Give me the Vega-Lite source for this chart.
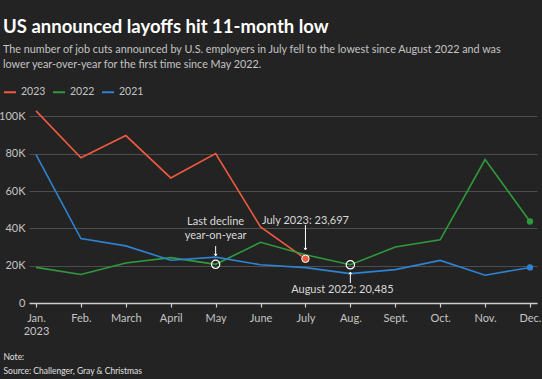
{
  "$schema": "https://vega.github.io/schema/vega-lite/v6.json",
  "width": 508,
  "height": 196,
  "autosize": {"type": "none"},
  "padding": {"left": 29, "top": 107, "right": 5, "bottom": 76},
  "background": "#232323",
  "config": {
    "view": {"stroke": null},
    "font": "Lato",
    "axis": {"labelFont": "Lato", "titleFont": "Lato"},
    "legend": {"labelFont": "Lato"}
  },
  "title": {
    "text": "US announced layoffs hit 11-month low",
    "subtitle": ["The number of job cuts announced by U.S. employers in July fell to the lowest since August 2022 and was", "lower year-over-year for the first time since May 2022."],
    "anchor": "start",
    "frame": "group",
    "dx": -26,
    "offset": 15,
    "font": "Lato",
    "fontSize": 18.5,
    "fontWeight": "bold",
    "color": "#ffffff",
    "subtitleFont": "Lato",
    "subtitleFontSize": 10.8,
    "subtitleColor": "#c4c4c4",
    "subtitleLineHeight": 15,
    "subtitlePadding": 8
  },
  "datasets": {
    "series": [
      {"month": "Jan.", "year": "2023", "value": 102943},
      {"month": "Feb.", "year": "2023", "value": 77770},
      {"month": "March", "year": "2023", "value": 89703},
      {"month": "April", "year": "2023", "value": 66995},
      {"month": "May", "year": "2023", "value": 80089},
      {"month": "June", "year": "2023", "value": 40709},
      {"month": "July", "year": "2023", "value": 23697},
      {"month": "Jan.", "year": "2022", "value": 19064},
      {"month": "Feb.", "year": "2022", "value": 15245},
      {"month": "March", "year": "2022", "value": 21387},
      {"month": "April", "year": "2022", "value": 24286},
      {"month": "May", "year": "2022", "value": 20712},
      {"month": "June", "year": "2022", "value": 32517},
      {"month": "July", "year": "2022", "value": 25810},
      {"month": "Aug.", "year": "2022", "value": 20485},
      {"month": "Sept.", "year": "2022", "value": 29989},
      {"month": "Oct.", "year": "2022", "value": 33843},
      {"month": "Nov.", "year": "2022", "value": 76835},
      {"month": "Dec.", "year": "2022", "value": 43651},
      {"month": "Jan.", "year": "2021", "value": 79552},
      {"month": "Feb.", "year": "2021", "value": 34531},
      {"month": "March", "year": "2021", "value": 30603},
      {"month": "April", "year": "2021", "value": 22913},
      {"month": "May", "year": "2021", "value": 24586},
      {"month": "June", "year": "2021", "value": 20476},
      {"month": "July", "year": "2021", "value": 18942},
      {"month": "Aug.", "year": "2021", "value": 15723},
      {"month": "Sept.", "year": "2021", "value": 17895},
      {"month": "Oct.", "year": "2021", "value": 22822},
      {"month": "Nov.", "year": "2021", "value": 14875},
      {"month": "Dec.", "year": "2021", "value": 19052}
    ],
    "dots": [
      {"month": "Dec.", "year": "2022", "value": 43651},
      {"month": "Dec.", "year": "2021", "value": 19052}
    ],
    "july": [
      {"month": "July", "year": "2023", "value": 23697}
    ],
    "rings": [
      {"month": "May", "value": 20712},
      {"month": "Aug.", "value": 20485}
    ],
    "notes": [
      {"month": "May", "value": 43400, "label": "Last decline", "shift": 0},
      {"month": "May", "value": 35900, "label": "year-on-year", "shift": 0},
      {"month": "July", "value": 44000, "label": "July 2023: 23,697", "shift": 0},
      {"month": "Aug.", "value": 7000, "label": "August 2022: 20,485", "shift": -8}
    ],
    "arrows": [
      {"month": "May", "from": 30500, "to": 25200, "dir": "down"},
      {"month": "July", "from": 41800, "to": 28400, "dir": "down"},
      {"month": "Aug.", "from": 10700, "to": 16600, "dir": "up"}
    ]
  },
  "layer": [
    {
      "data": {"name": "series"},
      "mark": {"type": "line", "strokeWidth": 1.6},
      "encoding": {
        "x": {
          "field": "month", "type": "ordinal",
          "sort": ["Jan.", "Feb.", "March", "April", "May", "June", "July", "Aug.", "Sept.", "Oct.", "Nov.", "Dec."],
          "scale": {"type": "point", "padding": 0.156},
          "axis": {
            "title": ["Note:", "Source: Challenger, Gray & Christmas"],
            "titleAnchor": "start",
            "titleAlign": "left",
            "titleBaseline": "top",
            "titleX": -26,
            "titleY": 49,
            "titleFontSize": 8.5,
            "titleFontWeight": "normal",
            "titleColor": "#e0e0e0",
            "titleLineHeight": 14,
            "labelAngle": 0,
            "labelColor": "#c4c4c4",
            "labelFontSize": 11,
            "labelPadding": 5,
            "labelExpr": "datum.value == 'Jan.' ? ['Jan.', '2023'] : datum.value",
            "labelLineHeight": 13,
            "domainColor": "#cfcfcf",
            "domainWidth": 1.5,
            "tickColor": "#cfcfcf",
            "tickSize": 4,
            "tickWidth": 1.2,
            "grid": false
          }
        },
        "y": {
          "field": "value", "type": "quantitative",
          "scale": {"domain": [0, 105000], "nice": false},
          "axis": {
            "title": null,
            "values": [0, 20000, 40000, 60000, 80000, 100000],
            "tickCount": 6,
            "labelOverlap": false,
            "labelExpr": "datum.value == 0 ? '0' : (datum.value / 1000) + 'K'",
            "labelColor": "#c4c4c4",
            "labelFontSize": 11,
            "labelPadding": 4,
            "domain": false,
            "ticks": false,
            "gridColor": "#4d4d4d",
            "gridWidth": 1
          }
        },
        "color": {
          "field": "year", "type": "nominal",
          "scale": {"domain": ["2023", "2022", "2021"], "range": ["#f05a3e", "#2f9a3c", "#2f82d2"]},
          "legend": {
            "title": null,
            "orient": "none",
            "legendX": -26,
            "legendY": -22,
            "direction": "horizontal",
            "symbolType": "stroke",
            "symbolStrokeWidth": 2,
            "symbolSize": 144,
            "labelColor": "#c4c4c4",
            "labelFontSize": 10.5,
            "columnPadding": 3,
            "labelOffset": 4
          }
        }
      }
    },
    {
      "data": {"name": "dots"},
      "mark": {"type": "point", "filled": true, "size": 40, "opacity": 1},
      "encoding": {
        "x": {"field": "month", "type": "ordinal", "sort": ["Jan.", "Feb.", "March", "April", "May", "June", "July", "Aug.", "Sept.", "Oct.", "Nov.", "Dec."]},
        "y": {"field": "value", "type": "quantitative"},
        "color": {"field": "year", "type": "nominal", "legend": null}
      }
    },
    {
      "data": {"name": "july"},
      "mark": {"type": "point", "filled": true, "size": 55, "opacity": 1, "stroke": "#ffffff", "strokeWidth": 1},
      "encoding": {
        "x": {"field": "month", "type": "ordinal", "sort": ["Jan.", "Feb.", "March", "April", "May", "June", "July", "Aug.", "Sept.", "Oct.", "Nov.", "Dec."]},
        "y": {"field": "value", "type": "quantitative"},
        "color": {"field": "year", "type": "nominal", "legend": null}
      }
    },
    {
      "data": {"name": "rings"},
      "mark": {"type": "point", "filled": false, "size": 70, "stroke": "#ffffff", "strokeWidth": 1.2, "opacity": 1},
      "encoding": {
        "x": {"field": "month", "type": "ordinal", "sort": ["Jan.", "Feb.", "March", "April", "May", "June", "July", "Aug.", "Sept.", "Oct.", "Nov.", "Dec."]},
        "y": {"field": "value", "type": "quantitative"}
      }
    },
    {
      "data": {"name": "arrows"},
      "mark": {"type": "rule", "color": "#ffffff", "strokeWidth": 1},
      "encoding": {
        "x": {"field": "month", "type": "ordinal", "sort": ["Jan.", "Feb.", "March", "April", "May", "June", "July", "Aug.", "Sept.", "Oct.", "Nov.", "Dec."]},
        "y": {"field": "from", "type": "quantitative"},
        "y2": {"field": "to"}
      }
    },
    {
      "data": {"name": "arrows"},
      "mark": {"type": "point", "filled": false, "stroke": "#ffffff", "strokeWidth": 1, "size": 20, "opacity": 1},
      "encoding": {
        "x": {"field": "month", "type": "ordinal", "sort": ["Jan.", "Feb.", "March", "April", "May", "June", "July", "Aug.", "Sept.", "Oct.", "Nov.", "Dec."]},
        "y": {"field": "to", "type": "quantitative"},
        "shape": {
          "field": "dir", "type": "nominal",
          "scale": {"domain": ["down", "up"], "range": ["M-0.6,-1L0,0L0.6,-1", "M-0.6,1L0,0L0.6,1"]},
          "legend": null
        }
      }
    },
    {
      "data": {"name": "notes"},
      "mark": {"type": "text", "color": "#d9d9d9", "fontSize": 11, "font": "Lato", "baseline": "middle", "align": "center"},
      "encoding": {
        "x": {"field": "month", "type": "ordinal", "sort": ["Jan.", "Feb.", "March", "April", "May", "June", "July", "Aug.", "Sept.", "Oct.", "Nov.", "Dec."]},
        "xOffset": {"field": "shift", "type": "quantitative", "scale": null},
        "y": {"field": "value", "type": "quantitative"},
        "text": {"field": "label"}
      }
    }
  ]
}
